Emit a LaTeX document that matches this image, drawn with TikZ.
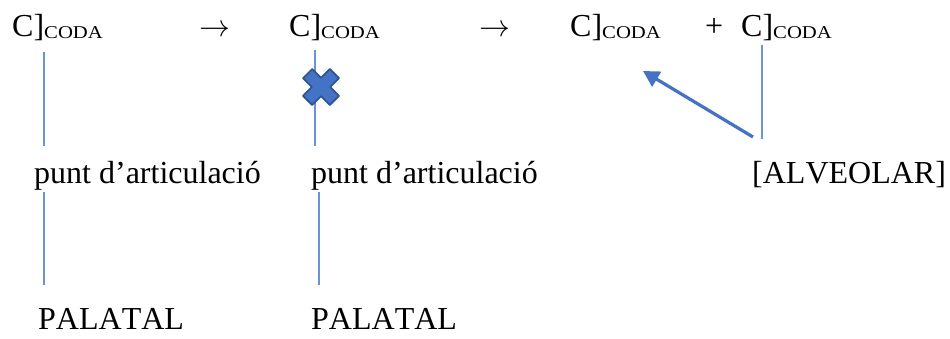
\documentclass[tikz,border=0pt]{standalone}
\usepackage{fontspec}
\usepackage{graphicx}
\usetikzlibrary{arrows.meta}
\setmainfont[Kerning=Off]{Liberation Serif}
\definecolor{linkblue}{HTML}{6A92D4}
\definecolor{arrowblue}{HTML}{4472C4}
\definecolor{crossedge}{HTML}{2F528F}
\newcommand{\codaseg}{C]\raisebox{-2pt}{\scalebox{1.15}[1]{\fontsize{18}{20}\selectfont CODA}}}
\newcommand{\derives}{\scalebox{1.24}{$\rightarrow$}}
\begin{document}
\begin{tikzpicture}[x=1pt,y=-1pt,
  lbl/.style={anchor=base west, inner sep=0pt, font=\fontsize{32}{36}\selectfont},
  link/.style={draw=linkblue, line width=1.8pt},
  spread/.style={draw=arrowblue, line width=3.2pt, -{Triangle[length=16pt,width=17pt]}},
  ]
  \useasboundingbox (0,0) rectangle (950,338);

  % top row: coda consonants
  \node[lbl] (c1) at (12,36) {\codaseg};
  \node[lbl] (a1) at (199,36) {\derives};
  \node[lbl] (c2) at (289,36) {\codaseg};
  \node[lbl] (a2) at (479,36) {\derives};
  \node[lbl] (c3) at (570,36) {\codaseg};
  \node[lbl] (pl) at (705,36) {+};
  \node[lbl] (c4) at (741,36) {\codaseg};

  % middle row
  \node[lbl] (p1) at (34,183) {punt d’articulació};
  \node[lbl] (p2) at (311,183) {punt d’articulació};
  \node[lbl] (alv) at (752,183) {[ALVEOLAR]};

  % bottom row
  \node[lbl] (pal1) at (38,329) {PALATAL};
  \node[lbl] (pal2) at (311,329) {PALATAL};

  % association lines
  \coordinate (l1a) at (44,52);  \coordinate (l1b) at (44,146);
  \coordinate (l2a) at (315,50); \coordinate (l2b) at (315,146);
  \coordinate (l3a) at (44,192); \coordinate (l3b) at (44,285);
  \coordinate (l4a) at (319,192);\coordinate (l4b) at (319,285);
  \coordinate (l5a) at (762,45); \coordinate (l5b) at (762,139);
  \draw[link] (l1a) -- (l1b);
  \draw[link] (l2a) -- (l2b);
  \draw[link] (l3a) -- (l3b);
  \draw[link] (l4a) -- (l4b);
  \draw[link] (l5a) -- (l5b);

  % spreading arrow
  \coordinate (tail) at (753,137);
  \coordinate (head) at (643,71);
  \draw[spread] (tail) -- (head);

  % delinking cross
  \begin{scope}[shift={(321,87)}, rotate=45]
    \filldraw[fill=arrowblue, draw=crossedge, line width=1.6pt, line join=round]
      (-6.5,-19) -- (6.5,-19) -- (6.5,-6.5) -- (19,-6.5) -- (19,6.5) -- (6.5,6.5)
      -- (6.5,19) -- (-6.5,19) -- (-6.5,6.5) -- (-19,6.5) -- (-19,-6.5) -- (-6.5,-6.5) -- cycle;
  \end{scope}
\end{tikzpicture}
\end{document}
